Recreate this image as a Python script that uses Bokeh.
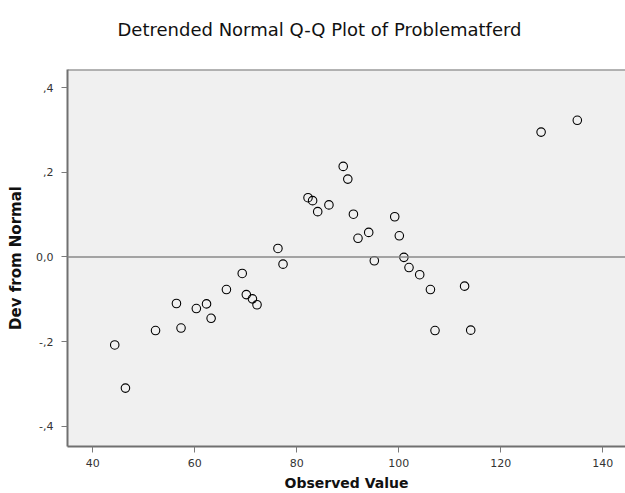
from bokeh.plotting import figure
from bokeh.models import ColumnDataSource, FixedTicker, Span, Range1d, Title
from bokeh.embed import file_html
from bokeh.resources import INLINE

# Observed values (x) and detrended deviations from normal (y)
observed = [44.3, 46.4, 52.3, 56.4, 57.3, 60.3, 62.3, 63.2, 66.2, 69.3,
            70.1, 71.3, 72.2, 76.3, 77.3, 82.2, 83.1, 84.1, 86.3, 89.1,
            90.0, 91.1, 92.0, 94.1, 95.2, 99.2, 100.1, 101.0, 102.0, 104.1,
            106.2, 107.1, 112.9, 114.1, 127.9, 135.0]
deviation = [-0.208, -0.310, -0.174, -0.110, -0.168, -0.122, -0.111, -0.145, -0.077, -0.039,
             -0.089, -0.099, -0.113, 0.020, -0.017, 0.140, 0.133, 0.107, 0.123, 0.214,
             0.184, 0.101, 0.044, 0.058, -0.009, 0.095, 0.050, -0.001, -0.025, -0.042,
             -0.077, -0.174, -0.069, -0.173, 0.295, 0.323]

x_ticks = [40, 60, 80, 100, 120, 140]
y_ticks = [-0.4, -0.2, 0.0, 0.2, 0.4]
y_tick_labels = ["-,4", "-,2", "0,0", ",2", ",4"]

source = ColumnDataSource(data=dict(observed=observed, deviation=deviation))

y_top = 0.443
p = figure(width=625, height=493, output_backend="svg", toolbar_location=None,
           x_range=Range1d(35.04, 144.45), y_range=Range1d(-0.448, y_top),
           min_border_left=67, min_border_right=0, min_border_top=69, min_border_bottom=47,
           background_fill_color="#f0f0f0", border_fill_color="white")

p.title.text = "Detrended Normal Q-Q Plot of Problematferd"
p.title.align = "left"
p.title.offset = 50
p.title.standoff = 0
p.title.text_font = "DejaVu Sans"
p.title.text_font_size = "18px"
p.title.text_font_style = "normal"
p.title.text_color = "#111111"

# spacer between title and plot frame
p.add_layout(Title(text=" ", text_font_size="1px", standoff=27), "above")

# frame borders on left, bottom and top only (right side runs off the picture)
p.outline_line_color = None

p.xgrid.visible = False
p.ygrid.visible = False

for ax in (p.xaxis[0], p.yaxis[0]):
    ax.axis_line_color = "#707070"
    ax.axis_line_width = 2
    ax.major_tick_in = 0
    ax.major_tick_out = 6
    ax.major_tick_line_color = "#7a7a7a"
    ax.minor_tick_line_color = None
    ax.major_label_text_font = "DejaVu Sans"
    ax.major_label_text_font_size = "11px"
    ax.major_label_text_color = "#333333"
    ax.axis_label_text_font = "DejaVu Sans"
    ax.axis_label_text_font_style = "bold"
    ax.axis_label_text_color = "#111111"

p.xaxis[0].ticker = FixedTicker(ticks=x_ticks)
p.xaxis[0].axis_label = "Observed Value"
p.xaxis[0].axis_label_text_font_size = "14px"
p.xaxis[0].major_label_standoff = 6
p.xaxis[0].axis_label_standoff = 5

p.yaxis[0].ticker = FixedTicker(ticks=y_ticks)
p.yaxis[0].major_label_overrides = dict(zip(y_ticks, y_tick_labels))
p.yaxis[0].axis_label = "Dev from Normal"
p.yaxis[0].axis_label_text_font_size = "15px"
p.yaxis[0].major_label_standoff = 8
p.yaxis[0].axis_label_standoff = 8

p.add_layout(Span(location=y_top, dimension="width", line_color="#707070", line_width=2))
p.add_layout(Span(location=0, dimension="width", line_color="#8a8a8a", line_width=1.5))

p.scatter("observed", "deviation", source=source, marker="circle", size=8.5,
          fill_color=None, line_color="black", line_width=1.1)

open("out.html", "w").write(file_html(p, INLINE))
